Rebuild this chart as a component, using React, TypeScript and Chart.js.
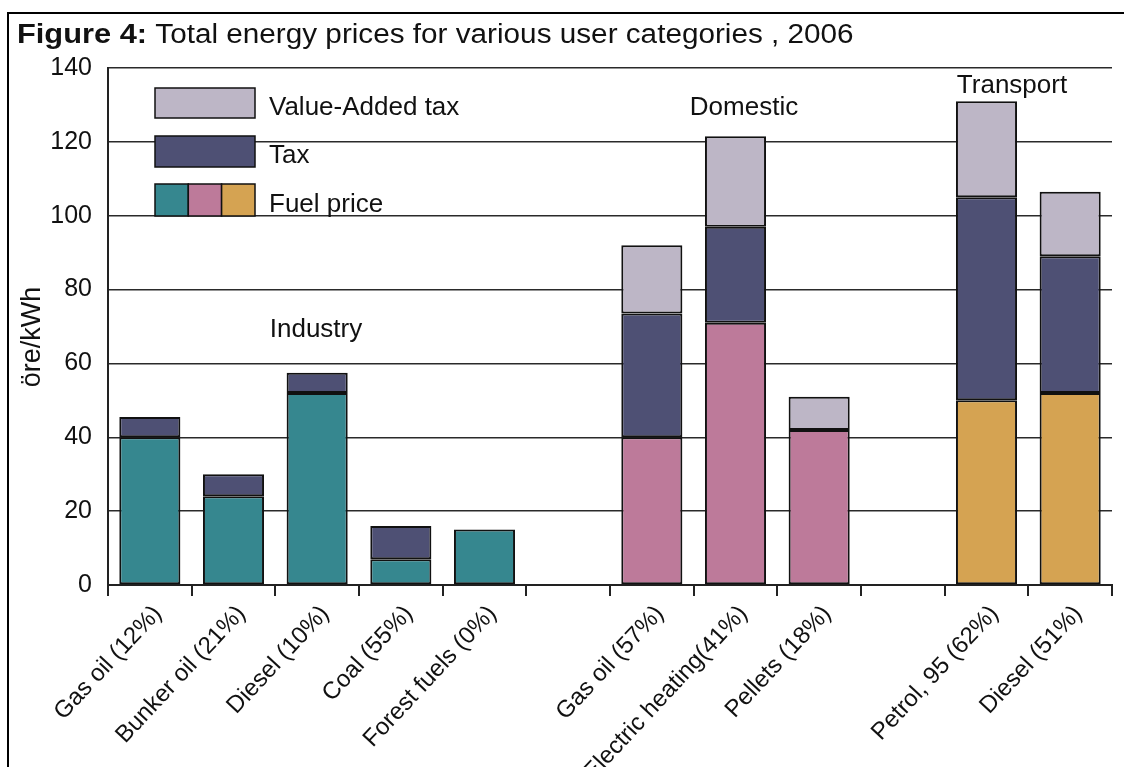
import React, { useEffect, useRef } from "react";
import { Chart, registerables } from "chart.js";

Chart.register(...registerables);

const categories = [
  "Gas oil (12%)",
  "Bunker oil (21%)",
  "Diesel (10%)",
  "Coal (55%)",
  "Forest fuels (0%)",
  "",
  "Gas oil (57%)",
  "Electric heating(41%)",
  "Pellets (18%)",
  "",
  "Petrol, 95 (62%)",
  "Diesel (51%)",
];

const fuelPrice = [40, 24, 52, 7, 15, null, 40, 71, 42, null, 50, 52];
const tax = [5.5, 6, 5.5, 9, null, null, 33.5, 26, null, null, 55, 37];
const vat = [null, null, null, null, null, null, 18.5, 24.5, 9, null, 26, 17.5];

const fuelColors = [
  "#36878F", "#36878F", "#36878F", "#36878F", "#36878F", "#36878F",
  "#BD7A9A", "#BD7A9A", "#BD7A9A", "#BD7A9A",
  "#D5A352", "#D5A352",
];

const TEAL = "#36878F";
const PINK = "#BD7A9A";
const GOLD = "#D5A352";
const TAX = "#4E5074";
const VAT = "#BDB6C6";

const yTicks = [0, 20, 40, 60, 80, 100, 120, 140];

const FONT = "'Liberation Sans', Arial, Helvetica, sans-serif";

const W = 1124;
const H = 800;

const decorPlugin = {
  id: "decor",
  beforeDraw(chart: any) {
    const ctx = chart.ctx;
    ctx.save();
    ctx.fillStyle = "#ffffff";
    ctx.fillRect(0, 0, chart.width, chart.height);
    ctx.strokeStyle = "#000";
    ctx.lineWidth = 2;
    ctx.beginPath();
    ctx.moveTo(8, H);
    ctx.lineTo(8, 13);
    ctx.lineTo(W, 13);
    ctx.stroke();
    ctx.restore();
  },
  afterDraw(chart: any) {
    const ctx = chart.ctx;
    ctx.save();
    ctx.fillStyle = "#111";
    ctx.textBaseline = "alphabetic";
    ctx.textAlign = "left";
    // Title (slightly widened like the reference)
    ctx.save();
    ctx.translate(17, 43);
    ctx.scale(1.1, 1);
    ctx.font = `bold 28px ${FONT}`;
    const boldPart = "Figure 4:";
    ctx.fillText(boldPart, 0, 0);
    const bw = ctx.measureText(boldPart).width;
    ctx.font = `27px ${FONT}`;
    ctx.fillText(" Total energy prices for various user categories , 2006", bw, 0);
    ctx.restore();

    // Y axis title
    ctx.save();
    ctx.translate(40, 337);
    ctx.rotate(-Math.PI / 2);
    ctx.textAlign = "center";
    ctx.font = `27px ${FONT}`;
    ctx.fillText("öre/kWh", 0, 0);
    ctx.restore();

    // Legend
    ctx.strokeStyle = "#111";
    ctx.lineWidth = 1.5;
    const box = (x: number, y: number, w: number, h: number, c: string) => {
      ctx.fillStyle = c;
      ctx.fillRect(x, y, w, h);
      ctx.strokeRect(x, y, w, h);
    };
    box(155, 88, 100, 30, VAT);
    box(155, 136, 100, 31, TAX);
    box(155, 184, 33.3, 32, TEAL);
    box(188.3, 184, 33.3, 32, PINK);
    box(221.6, 184, 33.4, 32, GOLD);
    ctx.fillStyle = "#111";
    ctx.font = `26px ${FONT}`;
    ctx.textAlign = "left";
    ctx.fillText("Value-Added tax", 269, 115);
    ctx.fillText("Tax", 269, 163);
    ctx.fillText("Fuel price", 269, 212);

    // Group labels
    ctx.textAlign = "center";
    ctx.fillText("Industry", 316, 337);
    ctx.fillText("Domestic", 744, 115);
    ctx.fillText("Transport", 1012, 93);
    ctx.restore();
  },
};

export default function App() {
  const canvasRef = useRef<HTMLCanvasElement | null>(null);

  useEffect(() => {
    const canvas = canvasRef.current;
    if (!canvas) return;
    const common = {
      borderColor: "#111",
      borderWidth: 2,
      borderSkipped: false,
      barPercentage: 0.73,
      categoryPercentage: 1,
    };
    const chart = new Chart(canvas, {
      type: "bar",
      data: {
        labels: categories,
        datasets: [
          { label: "Fuel price", data: fuelPrice as any, backgroundColor: fuelColors, ...common },
          { label: "Tax", data: tax as any, backgroundColor: TAX, ...common },
          { label: "Value-Added tax", data: vat as any, backgroundColor: VAT, ...common },
        ],
      },
      options: {
        responsive: false,
        animation: false,
        devicePixelRatio: 1,
        layout: { padding: { top: 68, right: 12, left: 0, bottom: 0 } },
        plugins: {
          legend: { display: false },
          tooltip: { enabled: false },
          title: { display: false },
        },
        scales: {
          x: {
            stacked: true,
            afterFit: (scale: any) => {
              scale.height = H - 585;
            },
            grid: {
              offset: true,
              drawOnChartArea: false,
              drawTicks: true,
              tickLength: 11,
              color: "#222",
              lineWidth: 2,
            },
            border: { display: true, color: "#222", width: 2 },
            ticks: {
              autoSkip: false,
              minRotation: 47,
              maxRotation: 47,
              padding: 4,
              labelOffset: 8,
              color: "#111",
              font: { family: FONT, size: 24 },
            },
          },
          y: {
            stacked: true,
            min: 0,
            max: 140,
            afterFit: (scale: any) => {
              scale.width = 108;
            },
            afterBuildTicks: (scale: any) => {
              scale.ticks = yTicks.map((v) => ({ value: v }));
            },
            grid: {
              drawTicks: false,
              color: "#2a2a2a",
              lineWidth: 1.5,
            },
            border: { display: true, color: "#222", width: 2 },
            ticks: {
              padding: 16,
              color: "#111",
              font: { family: FONT, size: 25 },
            },
          },
        },
      },
      plugins: [decorPlugin],
    });
    return () => chart.destroy();
  }, []);

  return (
    <div
      style={{
        position: "fixed",
        left: 0,
        top: 0,
        width: W,
        height: 767,
        overflow: "hidden",
        background: "#fff",
      }}
    >
      <canvas ref={canvasRef} width={W} height={H} style={{ display: "block" }} />
    </div>
  );
}
